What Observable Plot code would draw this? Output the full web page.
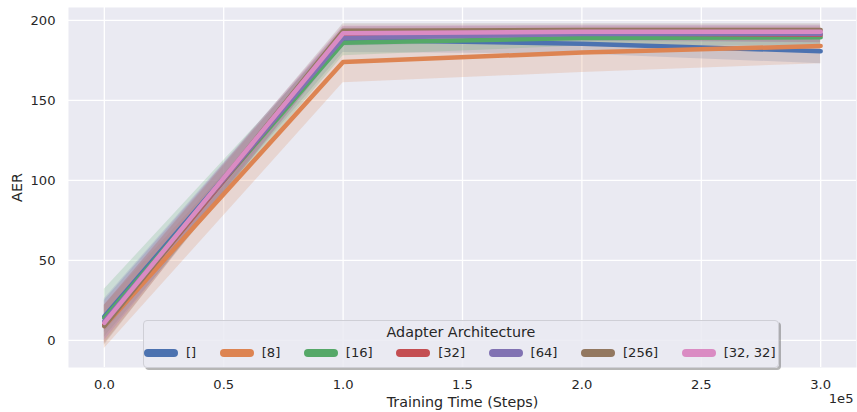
<!DOCTYPE html>
<html><head><meta charset="utf-8">
<script src="https://cdn.jsdelivr.net/npm/d3@7"></script>
<script src="https://cdn.jsdelivr.net/npm/@observablehq/plot@0.6"></script>
<style>
body{margin:0;background:#fff;font-family:"DejaVu Sans",sans-serif;color:#262626;}
#wrap{position:relative;width:857px;height:412px;}
#wrap svg{position:absolute;left:0;top:0;}
g[aria-label="x-axis label"] text, g[aria-label="y-axis label"] text{font-size:14.3px;}
#legend{position:absolute;left:143px;top:320px;width:636px;height:48px;box-sizing:border-box;
  border:1px solid #cfcfd6;border-radius:4px;background:rgba(234,234,242,0.85);
  box-shadow:2px 2px 0 rgba(110,110,110,0.5);}
#legend .title{position:absolute;left:0;right:0;top:3px;text-align:center;font-size:14.3px;line-height:16px;}
#legend .row{position:absolute;left:0px;top:24px;display:flex;align-items:center;font-size:13.1px;line-height:16px;white-space:nowrap;}
#legend .item{display:flex;align-items:center;margin-right:23.5px;}
#legend .sw{width:34px;height:8px;border-radius:4px;margin-right:8px;}
</style></head><body><div id="wrap"></div>
<script>
const steps = [0, 100000, 200000, 300000];
const seriesNames = ["[]", "[8]", "[16]", "[32]", "[64]", "[256]", "[32, 32]"];
const colors = ["#4c72b0", "#dd8452", "#55a868", "#c44e52", "#8172b3", "#937860", "#da8bc3"];
const xTicks = [0, 50000, 100000, 150000, 200000, 250000, 300000];
const yTicks = [0, 50, 100, 150, 200];

// mean AER per step, and confidence band (low / high)
const meanEmpty = [15, 188, 185.5, 180.8];
const lowEmpty  = [5, 180, 179, 173];
const highEmpty = [25, 195, 192, 188];
const mean8 = [9, 174, 180, 184];
const low8  = [-5, 161, 167.5, 173];
const high8 = [22, 186, 191, 195];
const mean16 = [14, 186, 189, 189.5];
const low16  = [2, 178, 184, 184];
const high16 = [32, 193, 194, 195];
const mean32 = [10, 190, 192, 191];
const low32  = [-2, 185, 188, 186];
const high32 = [22, 196, 196, 196];
const mean64 = [12, 189, 191.5, 191.5];
const low64  = [0, 184, 187, 186];
const high64 = [26, 196, 197, 197];
const mean256 = [9, 193.5, 194, 194];
const low256  = [-3, 189, 190, 189];
const high256 = [22, 198, 198, 198];
const mean3232 = [11, 192, 193, 193];
const low3232  = [0, 187, 189, 188];
const high3232 = [24, 197, 197, 197];

const means = [meanEmpty, mean8, mean16, mean32, mean64, mean256, mean3232];
const lows = [lowEmpty, low8, low16, low32, low64, low256, low3232];
const highs = [highEmpty, high8, high16, high32, high64, high256, high3232];

const rows = [];
seriesNames.forEach((s, i) => steps.forEach((t, j) => rows.push({series: s, step: t, mean: means[i][j], lo: lows[i][j], hi: highs[i][j]})));

const chart = Plot.plot({
  width: 857, height: 412,
  marginLeft: 68, marginRight: 1, marginTop: 7, marginBottom: 45,
  style: {fontFamily: "DejaVu Sans", fontSize: "13.1px", color: "#262626", background: "transparent", overflow: "visible"},
  x: {domain: [-15000, 315000]},
  y: {domain: [-16.9, 208.1]},
  color: {domain: seriesNames, range: colors},
  marks: [
    Plot.frame({fill: "#eaeaf2", stroke: "none"}),
    Plot.gridX(xTicks, {stroke: "#ffffff", strokeOpacity: 1, strokeWidth: 1.3}),
    Plot.gridY(yTicks, {stroke: "#ffffff", strokeOpacity: 1, strokeWidth: 1.3}),
    Plot.areaY(rows, {x: "step", y1: "lo", y2: "hi", z: "series", fill: "series", fillOpacity: 0.2}),
    Plot.line(rows, {x: "step", y: "mean", z: "series", stroke: "series", strokeWidth: 4.5}),
    Plot.axisX(xTicks, {tickSize: 0, tickPadding: 12, tickFormat: d => (d / 1e5).toFixed(1),
      label: "Training Time (Steps)", labelAnchor: "center", labelOffset: 39, labelArrow: "none"}),
    Plot.axisY(yTicks, {tickSize: 0, tickPadding: 13, label: "AER", labelAnchor: "center", labelOffset: 57, labelArrow: "none"}),
    Plot.text(["1e5"], {frameAnchor: "bottom-right", text: d => d, dy: 35, dx: -3, textAnchor: "end"})
  ]
});
const wrap = document.getElementById("wrap");
wrap.appendChild(chart);

const legend = document.createElement("div");
legend.id = "legend";
const title = document.createElement("div");
title.className = "title";
title.textContent = "Adapter Architecture";
legend.appendChild(title);
const row = document.createElement("div");
row.className = "row";
seriesNames.forEach((s, i) => {
  const it = document.createElement("div"); it.className = "item";
  const sw = document.createElement("div"); sw.className = "sw"; sw.style.background = colors[i];
  const lb = document.createElement("span"); lb.textContent = s;
  it.appendChild(sw); it.appendChild(lb); row.appendChild(it);
});
legend.appendChild(row);
wrap.appendChild(legend);
</script></body></html>
